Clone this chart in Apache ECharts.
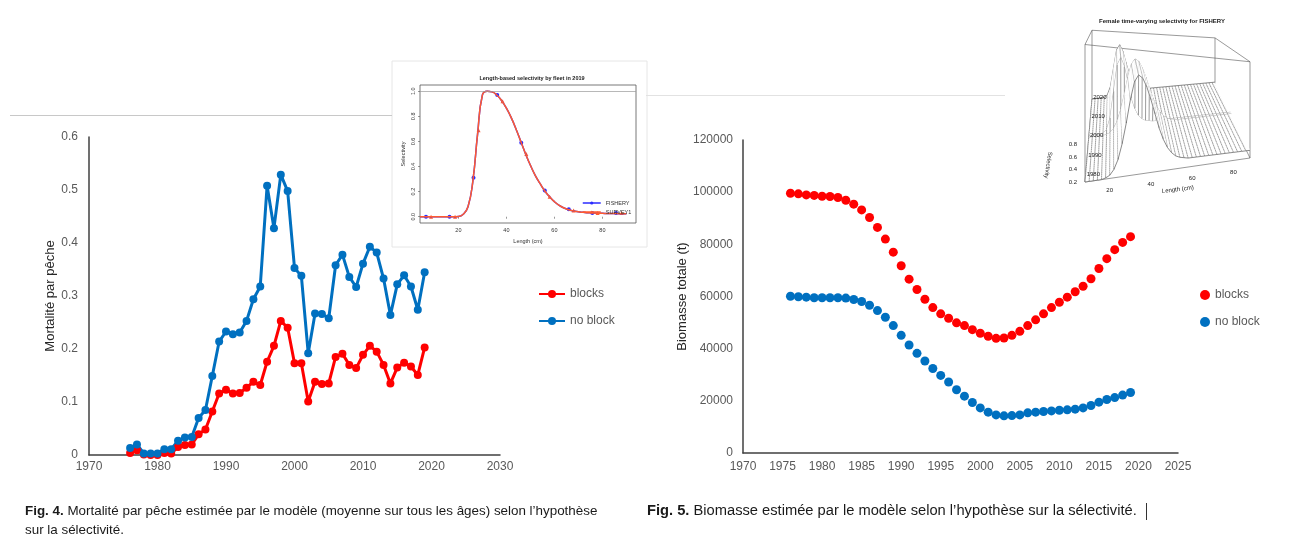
<!DOCTYPE html>
<html><head><meta charset="utf-8">
<script src="https://cdn.jsdelivr.net/npm/echarts@6/dist/echarts.min.js"></script>
<style>html,body{margin:0;padding:0;background:#fff}#c{width:1306px;height:537px}</style>
</head><body><div id="c"></div>
<script>
// ---------- DATA ----------
const years = [1976,1977,1978,1979,1980,1981,1982,1983,1984,1985,1986,1987,1988,1989,1990,1991,1992,1993,1994,1995,1996,1997,1998,1999,2000,2001,2002,2003,2004,2005,2006,2007,2008,2009,2010,2011,2012,2013,2014,2015,2016,2017,2018,2019];
const mortBlocks = [0.004,0.009,0.001,0.0,0.0,0.004,0.003,0.015,0.019,0.020,0.039,0.048,0.082,0.116,0.123,0.116,0.117,0.127,0.138,0.132,0.176,0.206,0.253,0.240,0.173,0.173,0.101,0.138,0.134,0.135,0.185,0.191,0.170,0.164,0.189,0.206,0.195,0.170,0.135,0.165,0.174,0.167,0.151,0.203];
const mortNoBlock = [0.013,0.020,0.003,0.003,0.003,0.011,0.011,0.027,0.033,0.034,0.070,0.085,0.149,0.214,0.233,0.228,0.231,0.253,0.294,0.318,0.508,0.428,0.529,0.498,0.353,0.338,0.192,0.267,0.266,0.258,0.358,0.378,0.336,0.317,0.361,0.393,0.382,0.333,0.264,0.322,0.339,0.318,0.274,0.345];
const bioBlocks = [99600,99350,98950,98750,98450,98350,97950,96900,95400,93200,90300,86500,82000,77000,71800,66650,62700,58950,55750,53350,51650,49900,48850,47300,45900,44750,43950,44100,45100,46650,48850,51050,53350,55750,57800,59750,61800,63950,66800,70750,74500,77950,80750,82950];
const bioNoBlock = [60100,59900,59750,59500,59500,59500,59500,59400,58850,58100,56650,54600,52050,48850,45100,41400,38200,35250,32400,29750,27200,24250,21800,19350,17300,15650,14600,14250,14350,14600,15400,15650,15900,16150,16400,16550,16800,17300,18200,19500,20500,21250,22200,23200];
const seriesNames = ['blocks','no block'];
const captionFig4 = ['Fig. 4.',' Mortalité par pêche estimée par le modèle (moyenne sur tous les âges) selon l’hypothèse','sur la sélectivité.'];
const captionFig5 = ['Fig. 5.',' Biomasse estimée par le modèle selon l’hypothèse sur la sélectivité.'];
const yTitleFig4 = 'Mortalité par pêche';
const yTitleFig5 = 'Biomasse totale (t)';

// inset 1: length-based selectivity 2019
const insetTitle1 = 'Length-based selectivity by fleet in 2019';
const selCurveLen = [4,6,8,10,12,14,16,18,20,22,24,26,28,30,32,34,36,38,40,42,44,46,48,50,52,54,56,58,60,62,64,66,68,70,72,74,76,78,80,82,84,86,88,90];
const selCurveVal = [0,0,0,0,0,0,0,0,0.002,0.02,0.08,0.28,0.66,0.97,1.0,0.995,0.97,0.925,0.865,0.79,0.70,0.60,0.50,0.41,0.33,0.265,0.205,0.16,0.12,0.09,0.07,0.056,0.046,0.04,0.035,0.032,0.03,0.028,0.027,0.026,0.025,0.025,0.024,0.024];
const fisheryLen = [6.5,16.3,26.3,36.2,46.2,56,66,75.8,85.7];
const fisheryVal = [0,0,0.31,0.97,0.59,0.21,0.06,0.03,0.03];
const surveyLen = [8.6,18.6,28.4,38.4,48.3,58,68,78,88];
const surveyVal = [0,0,0.69,0.92,0.50,0.16,0.05,0.03,0.03];
const insetFleets = ['FISHERY','SURVEY1'];

// inset 2: time-varying selectivity (pseudo 3D)
const insetTitle2 = 'Female time-varying selectivity for FISHERY';
const tvLengths = [10,12,14,16,18,20,22,24,26,28,30,32,34,36,38,40,42,44,46,48,50,52,54,56,58,60,62,64,66,68,70,72,74,76,78,80,82,84,86,88,90];
const tvSelEarly = [0,0,0,0,0,0.01,0.03,0.08,0.17,0.32,0.52,0.75,0.93,1.0,0.97,0.88,0.75,0.6,0.45,0.33,0.24,0.18,0.14,0.12,0.11,0.1,0.1,0.1,0.1,0.1,0.1,0.1,0.1,0.1,0.1,0.1,0.1,0.1,0.1,0.1,0.1];
const tvSelLate = [0,0,0,0,0.01,0.05,0.2,0.55,0.9,1.0,0.88,0.66,0.45,0.3,0.2,0.15,0.12,0.11,0.1,0.1,0.1,0.1,0.1,0.1,0.1,0.1,0.1,0.1,0.1,0.1,0.1,0.1,0.1,0.1,0.1,0.1,0.1,0.1,0.1,0.1,0.1];
const tvBlockStart = 2000;
const tvYearTicks = [1980,1990,2000,2010,2020];
const tvSelTicks = [0.2,0.4,0.6,0.8];
const tvLenTicks = [20,40,60,80];

// ---------- CHART ----------
const FONT = 'Liberation Sans';
const GREY = '#595959';
const RED = '#ff0000', BLUE = '#0070c0';
const chart = echarts.init(document.getElementById('c'), null, {renderer:'canvas'});

function proj(len, yr, z) {
  const u = (len - 10) / 80, t = (yr - 1976) / 43;
  const fx = 1085 + 165*u, fy = 182 - 24*u;
  const bx = 1092 + 123*u, by = 99 - 13*u;
  const h = (110 - 55*t) * (1 - 0.3*u);
  return [fx + (bx-fx)*t, fy + (by-fy)*t - z*h];
}
function tvSel(i, j) { return years[j] >= tvBlockStart ? tvSelLate[i] : tvSelEarly[i]; }

const surfCells = [];
for (let j = years.length - 2; j >= 0; j--) for (let i = 0; i < tvLengths.length - 1; i++) surfCells.push([i, j]);

const boxL = [tvLengths[0], tvLengths[tvLengths.length-1]];
const boxY = [years[0], years[years.length-1]];
const boxZ = [0, 1.25];
const boxEdges = [];
[[0,0],[0,1],[1,0],[1,1]].forEach(([a,b]) => {
  boxEdges.push([proj(boxL[a],boxY[b],boxZ[0]), proj(boxL[a],boxY[b],boxZ[1])]);
});
[0,1].forEach(k => {
  [0,1].forEach(b => boxEdges.push([proj(boxL[0],boxY[b],boxZ[k]), proj(boxL[1],boxY[b],boxZ[k])]));
  [0,1].forEach(a => boxEdges.push([proj(boxL[a],boxY[0],boxZ[k]), proj(boxL[a],boxY[1],boxZ[k])]));
});

const axLabel = {color: GREY, fontSize: 12, fontFamily: FONT, formatter: v => String(v)};

const graphics = [
  {type:'line', shape:{x1:10,y1:115.5,x2:392,y2:115.5}, style:{stroke:'#c8c8c8', lineWidth:1}},
  {type:'line', shape:{x1:646,y1:95.5,x2:1005,y2:95.5}, style:{stroke:'#e2e2e2', lineWidth:1}},
  {type:'rect', shape:{x:392,y:61,width:255,height:186}, style:{fill:'#fff', stroke:'#e6e6e6', lineWidth:1}, z:-1},
  {type:'text', left:25, top:502, style:{text:'{b|'+captionFig4[0]+'}'+captionFig4[1]+'\n'+captionFig4[2], fontSize:13.4, fontFamily:FONT, fill:'#1a1a1a', lineHeight:19,
     rich:{b:{fontWeight:'bold', fontSize:13.4, fontFamily:FONT, fill:'#1a1a1a', lineHeight:19}}}},
  {type:'text', left:647, top:501, style:{text:'{b|'+captionFig5[0]+'}'+captionFig5[1], fontSize:14.7, fontFamily:FONT, fill:'#1a1a1a', lineHeight:20,
     rich:{b:{fontWeight:'bold', fontSize:14.7, fontFamily:FONT, fill:'#1a1a1a', lineHeight:20}}}},
  {type:'line', shape:{x1:1146.5,y1:503,x2:1146.5,y2:520}, style:{stroke:'#333', lineWidth:1}}
];
tvYearTicks.forEach(y => { const p = proj(10, y, 0); graphics.push({type:'text', x:p[0]+1, y:p[1], z:10, style:{text:String(y), fontSize:6, fontFamily:FONT, fill:'#222', align:'left', verticalAlign:'middle'}}); });
tvSelTicks.forEach(s => { graphics.push({type:'text', x:1077, y:182-(s-0.2)*62, z:10, style:{text:s.toFixed(1), fontSize:6, fontFamily:FONT, fill:'#222', align:'right', verticalAlign:'middle'}}); });
tvLenTicks.forEach(l => { const p = proj(l, 1976, 0); graphics.push({type:'text', x:p[0]+4, y:p[1]+11, z:10, style:{text:String(l), fontSize:6, fontFamily:FONT, fill:'#222', align:'center', verticalAlign:'middle'}}); });
(() => { const p = proj(55, 1976, 0); graphics.push({type:'text', x:p[0], y:p[1]+21, rotation:0.12, z:10, style:{text:'Length (cm)', fontSize:6, fontFamily:FONT, fill:'#222', align:'center', verticalAlign:'middle'}}); })();
graphics.push({type:'text', x:1048, y:165, rotation:-Math.PI/2*1.1, z:10, style:{text:'Selectivity', fontSize:6, fontFamily:FONT, fill:'#222', align:'center', verticalAlign:'middle'}});

const option = {
  backgroundColor: '#fff',
  animation: false,
  title: [
    {text: insetTitle1, left: 527, top: 70, textAlign:'center', textStyle:{fontSize:5.5, fontWeight:'bold', fontFamily:FONT, color:'#222'}},
    {text: insetTitle2, left: 1157, top: 13, textAlign:'center', textStyle:{fontSize:6, fontWeight:'bold', fontFamily:FONT, color:'#222'}}
  ],
  grid: [
    {left:89, top:137, width:411, height:318, outerBoundsMode:'none'},
    {left:743, top:140, width:435, height:313, outerBoundsMode:'none'},
    {left:420, top:85, width:216, height:138, show:true, borderColor:'#555', borderWidth:0.8, backgroundColor:'#fff', outerBoundsMode:'none'},
    {left:1040, top:0, width:220, height:200, outerBoundsMode:'none'}
  ],
  xAxis: [
    {gridIndex:0, type:'value', min:1970, max:2030, interval:10, axisLine:{lineStyle:{color:'#404040', width:1.5}}, axisTick:{show:false}, splitLine:{show:false}, axisLabel:{...axLabel, margin:6}},
    {gridIndex:1, type:'value', min:1970, max:2025, interval:5, axisLine:{lineStyle:{color:'#404040', width:1.5}}, axisTick:{show:false}, splitLine:{show:false}, axisLabel:{...axLabel, margin:8}},
    {gridIndex:2, type:'value', min:4, max:94, axisLine:{show:false}, splitLine:{show:false},
      axisTick:{show:true, length:2, customValues:[20,40,60,80], lineStyle:{color:'#555', width:0.6}},
      axisLabel:{customValues:[20,40,60,80], fontSize:5.5, fontFamily:FONT, color:'#333', margin:4},
      name:'Length (cm)', nameLocation:'middle', nameGap:15, nameTextStyle:{fontSize:5.5, fontFamily:FONT, color:'#333'}},
    {gridIndex:3, type:'value', min:1040, max:1260, show:false}
  ],
  yAxis: [
    {gridIndex:0, type:'value', min:0, max:0.6, interval:0.1, axisLine:{show:true, lineStyle:{color:'#404040', width:1.5}}, axisTick:{show:false}, splitLine:{show:false},
      axisLabel:{...axLabel, margin:11, formatter: v => v === 0 ? '0' : v.toFixed(1)},
      name: yTitleFig4, nameLocation:'middle', nameGap:30, nameTextStyle:{fontSize:13, fontFamily:FONT, color:'#262626'}},
    {gridIndex:1, type:'value', min:0, max:120000, interval:20000, axisLine:{show:true, lineStyle:{color:'#404040', width:1.5}}, axisTick:{show:false}, splitLine:{show:false},
      axisLabel:{...axLabel, margin:10},
      name: yTitleFig5, nameLocation:'middle', nameGap:53, nameTextStyle:{fontSize:13, fontFamily:FONT, color:'#262626'}},
    {gridIndex:2, type:'value', min:-0.05, max:1.05, axisLine:{show:false}, splitLine:{show:false},
      axisTick:{show:true, length:2, customValues:[0,0.2,0.4,0.6,0.8,1.0], lineStyle:{color:'#555', width:0.6}},
      axisLabel:{customValues:[0,0.2,0.4,0.6,0.8,1.0], rotate:90, fontSize:5.5, fontFamily:FONT, color:'#333', margin:4, formatter: v => v.toFixed(1)},
      name:'Selectivity', nameLocation:'middle', nameGap:14, nameTextStyle:{fontSize:5.5, fontFamily:FONT, color:'#333'}},
    {gridIndex:3, type:'value', min:0, max:200, inverse:true, show:false}
  ],
  legend: [
    {data: seriesNames, orient:'vertical', left:538, top:288, padding:0, itemGap:15, itemWidth:26, itemHeight:10,
      textStyle:{fontSize:12, fontFamily:FONT, color:GREY}},
    {data: seriesNames.map(n => n + ' (B)'), orient:'vertical', left:1200, top:289, padding:0, itemGap:15, itemWidth:10, itemHeight:10, icon:'circle',
      formatter: n => n.replace(' (B)', ''), textStyle:{fontSize:12, fontFamily:FONT, color:GREY}},
    {data: insetFleets, orient:'vertical', left:582, top:200, padding:0, itemGap:3, itemWidth:18, itemHeight:4,
      lineStyle:{width:1.5}, textStyle:{fontSize:5.5, fontFamily:FONT, color:'#333'}}
  ],
  graphic: graphics,
  series: [
    {name: seriesNames[0], type:'line', xAxisIndex:0, yAxisIndex:0, data: years.map((y,i)=>[y, mortBlocks[i]]),
      symbol:'circle', symbolSize:8, color:RED, lineStyle:{width:3, color:RED}, itemStyle:{color:RED, opacity:1}},
    {name: seriesNames[1], type:'line', xAxisIndex:0, yAxisIndex:0, data: years.map((y,i)=>[y, mortNoBlock[i]]),
      symbol:'circle', symbolSize:8, color:BLUE, lineStyle:{width:3, color:BLUE}, itemStyle:{color:BLUE, opacity:1}},
    {name: seriesNames[0] + ' (B)', type:'scatter', xAxisIndex:1, yAxisIndex:1, data: years.map((y,i)=>[y, bioBlocks[i]]),
      symbolSize:9, color:RED, itemStyle:{color:RED, opacity:1}},
    {name: seriesNames[1] + ' (B)', type:'scatter', xAxisIndex:1, yAxisIndex:1, data: years.map((y,i)=>[y, bioNoBlock[i]]),
      symbolSize:9, color:BLUE, itemStyle:{color:BLUE, opacity:1}},
    {name: insetFleets[0], type:'line', xAxisIndex:2, yAxisIndex:2, data: selCurveLen.map((l,i)=>[l, selCurveVal[i]]),
      smooth:true, symbol:'circle', symbolSize:4, showSymbol:false, color:'#2b2bff', lineStyle:{width:1.5, color:'#2b2bff'}},
    {name: insetFleets[1], type:'line', xAxisIndex:2, yAxisIndex:2, data: selCurveLen.map((l,i)=>[l, selCurveVal[i]]),
      smooth:true, symbol:'triangle', symbolSize:4, showSymbol:false, color:'#ff5a30', lineStyle:{width:1.5, color:'#ff5a30'},
      markLine:{silent:true, symbol:'none', label:{show:false}, lineStyle:{color:'#9a9a9a', width:0.7, type:'solid'}, data:[{yAxis:1}]}},
    {name: insetFleets[0], type:'scatter', xAxisIndex:2, yAxisIndex:2, data: fisheryLen.map((l,i)=>[l, fisheryVal[i]]),
      symbol:'circle', symbolSize:4, itemStyle:{color:'#2b2bff', opacity:1}},
    {name: insetFleets[1], type:'scatter', xAxisIndex:2, yAxisIndex:2, data: surveyLen.map((l,i)=>[l, surveyVal[i]]),
      symbol:'triangle', symbolSize:4, itemStyle:{color:'#ff5a30', opacity:1}},
    {type:'custom', xAxisIndex:3, yAxisIndex:3, silent:true, data: boxEdges.map((e,k)=>[k]),
      renderItem: (params, api) => {
        const e = boxEdges[api.value(0)];
        const a = api.coord(e[0]), b = api.coord(e[1]);
        return {type:'line', shape:{x1:a[0],y1:a[1],x2:b[0],y2:b[1]}, style:{stroke:'#555', lineWidth:0.6}};
      }},
    {type:'custom', xAxisIndex:3, yAxisIndex:3, silent:true, data: surfCells,
      renderItem: (params, api) => {
        const i = api.value(0), j = api.value(1);
        const p = [
          proj(tvLengths[i], years[j], tvSel(i,j)),
          proj(tvLengths[i+1], years[j], tvSel(i+1,j)),
          proj(tvLengths[i+1], years[j+1], tvSel(i+1,j+1)),
          proj(tvLengths[i], years[j+1], tvSel(i,j+1))
        ].map(q => api.coord(q));
        const children = [
          {type:'polygon', shape:{points:p}, style:{fill:'#fff', stroke:'#fff', lineWidth:0.3}},
          {type:'polyline', shape:{points:[p[0],p[3]]}, style:{stroke:'#3a3a3a', lineWidth:0.5, fill:null}}
        ];
        if (j === 0) children.push({type:'polyline', shape:{points:[p[0],p[1]]}, style:{stroke:'#3a3a3a', lineWidth:0.6, fill:null}});
        if (j === years.length - 2) children.push({type:'polyline', shape:{points:[p[3],p[2]]}, style:{stroke:'#3a3a3a', lineWidth:0.6, fill:null}});
        if (years[j+1] === tvBlockStart || years[j] === tvBlockStart) children.push({type:'polyline', shape:{points:[p[0],p[1]]}, style:{stroke:'#3a3a3a', lineWidth:0.5, fill:null}});
        return {type:'group', children};
      }}
  ]
};
chart.setOption(option);
</script></body></html>
